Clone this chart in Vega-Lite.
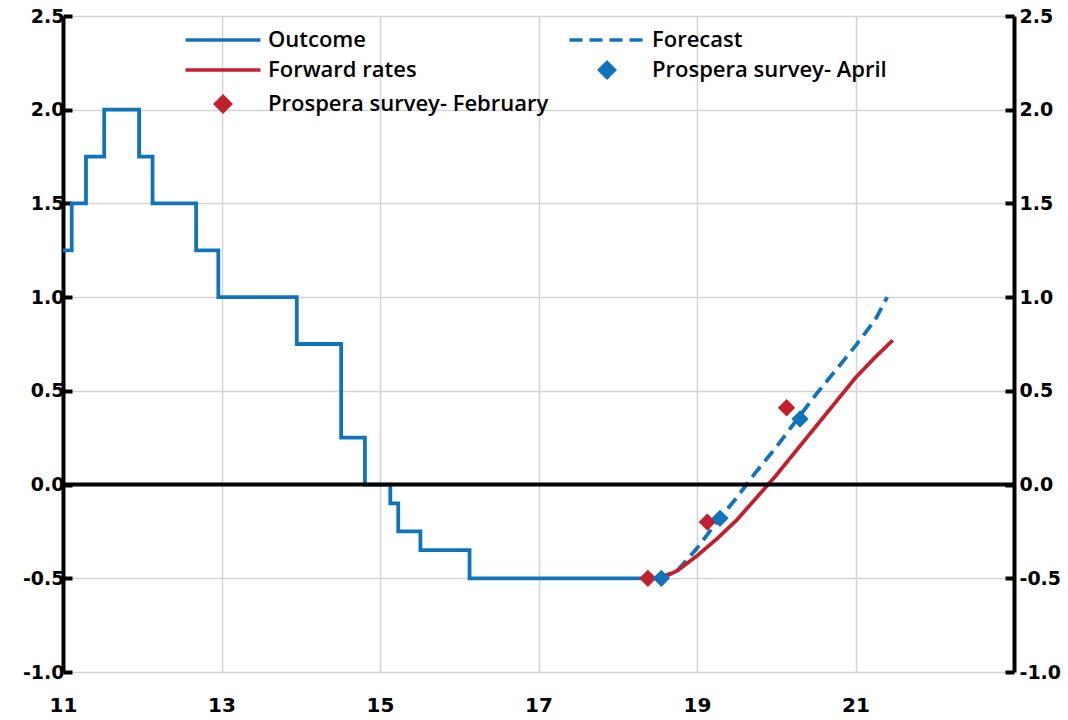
{
  "$schema": "https://vega.github.io/schema/vega-lite/v6.json",
  "autosize": "none",
  "width": 951,
  "height": 656,
  "padding": {"left": 63, "top": 16, "right": 54, "bottom": 48},
  "background": "white",
  "config": {
    "view": {"stroke": null},
    "axis": {"labelFont": "DejaVu Sans", "labelFontWeight": "bold", "labelFontSize": 19, "labelColor": "#000", "title": null, "gridColor": "#d4d4d4", "gridWidth": 1.5}
  },
  "data": {"values": [
    {"series": "Outcome", "x": 11.0, "y": 1.25},
    {"series": "Outcome", "x": 11.11, "y": 1.5},
    {"series": "Outcome", "x": 11.29, "y": 1.75},
    {"series": "Outcome", "x": 11.52, "y": 2.0},
    {"series": "Outcome", "x": 11.96, "y": 1.75},
    {"series": "Outcome", "x": 12.13, "y": 1.5},
    {"series": "Outcome", "x": 12.68, "y": 1.25},
    {"series": "Outcome", "x": 12.96, "y": 1.0},
    {"series": "Outcome", "x": 13.95, "y": 0.75},
    {"series": "Outcome", "x": 14.51, "y": 0.25},
    {"series": "Outcome", "x": 14.81, "y": 0.0},
    {"series": "Outcome", "x": 15.13, "y": -0.1},
    {"series": "Outcome", "x": 15.23, "y": -0.25},
    {"series": "Outcome", "x": 15.51, "y": -0.35},
    {"series": "Outcome", "x": 16.13, "y": -0.5},
    {"series": "Outcome", "x": 18.52, "y": -0.5},
    {"series": "Forecast", "x": 18.52, "y": -0.5},
    {"series": "Forecast", "x": 18.75, "y": -0.46},
    {"series": "Forecast", "x": 19.0, "y": -0.34},
    {"series": "Forecast", "x": 19.25, "y": -0.2},
    {"series": "Forecast", "x": 19.5, "y": -0.07},
    {"series": "Forecast", "x": 19.75, "y": 0.07},
    {"series": "Forecast", "x": 20.0, "y": 0.2},
    {"series": "Forecast", "x": 20.25, "y": 0.34},
    {"series": "Forecast", "x": 20.5, "y": 0.48},
    {"series": "Forecast", "x": 20.75, "y": 0.61},
    {"series": "Forecast", "x": 21.0, "y": 0.74},
    {"series": "Forecast", "x": 21.25, "y": 0.88},
    {"series": "Forecast", "x": 21.4, "y": 1.0},
    {"series": "Forward rates", "x": 18.55, "y": -0.5},
    {"series": "Forward rates", "x": 18.75, "y": -0.46},
    {"series": "Forward rates", "x": 19.0, "y": -0.38},
    {"series": "Forward rates", "x": 19.25, "y": -0.29},
    {"series": "Forward rates", "x": 19.5, "y": -0.19},
    {"series": "Forward rates", "x": 19.75, "y": -0.07},
    {"series": "Forward rates", "x": 20.0, "y": 0.05},
    {"series": "Forward rates", "x": 20.25, "y": 0.18},
    {"series": "Forward rates", "x": 20.5, "y": 0.31},
    {"series": "Forward rates", "x": 20.75, "y": 0.44},
    {"series": "Forward rates", "x": 21.0, "y": 0.57},
    {"series": "Forward rates", "x": 21.25, "y": 0.68},
    {"series": "Forward rates", "x": 21.47, "y": 0.77},
    {"series": "Prospera survey- February", "x": 18.38, "y": -0.5},
    {"series": "Prospera survey- February", "x": 19.13, "y": -0.2},
    {"series": "Prospera survey- February", "x": 20.13, "y": 0.41},
    {"series": "Prospera survey- April", "x": 18.55, "y": -0.5},
    {"series": "Prospera survey- April", "x": 19.29, "y": -0.18},
    {"series": "Prospera survey- April", "x": 20.3, "y": 0.35}
  ]},
  "resolve": {"scale": {"y": "independent"}},
  "layer": [
    {
      "transform": [{"filter": "datum.series == 'Outcome'"}],
      "mark": {"type": "line", "strokeWidth": 3.8, "interpolate": "step-after"},
      "encoding": {
        "x": {"field": "x", "type": "quantitative", "scale": {"domain": [11, 23], "nice": false},
          "axis": {"values": [11, 13, 15, 17, 19, 21, 23], "format": "d", "labelExpr": "datum.value == 23 ? '' : datum.label", "labelFlush": false, "labelFontSize": 20, "domain": false, "ticks": false, "grid": true, "labelPadding": 23}},
        "y": {"field": "y", "type": "quantitative", "scale": {"domain": [-1, 2.5], "nice": false},
          "axis": {"orient": "left", "values": [-1, -0.5, 0, 0.5, 1, 1.5, 2, 2.5], "labelExpr": "(datum.value < 0 ? '-' : '') + format(abs(datum.value), '.1f')", "grid": true, "domainColor": "#000", "domainWidth": 4, "tickColor": "#000", "tickWidth": 4, "tickSize": -9, "labelPadding": 8}},
        "color": {"field": "series", "type": "nominal",
          "scale": {"domain": ["Outcome", "Forward rates", "Prospera survey- February", "Forecast", "Prospera survey- April"], "range": ["#1173BA", "#C2202F", "#C2202F", "#1173BA", "#1173BA"]},
          "legend": {
            "orient": "none", "legendX": 149, "legendY": 13, "columns": 2, "title": null, "padding": 0,
            "labelFont": "Open Sans", "labelFontSize": 22, "labelFontWeight": 600, "labelColor": "#000", "labelLimit": 500,
            "symbolSize": 225, "symbolStrokeWidth": 3.5, "rowPadding": 4, "columnPadding": 13, "labelOffset": 34, "gridAlign": "each"
          }},
        "strokeDash": {"field": "series", "type": "nominal", "scale": {"domain": ["Outcome", "Forward rates", "Prospera survey- February", "Forecast", "Prospera survey- April"], "range": [[1, 0], [1, 0], [1, 0], [13, 7], [1, 0]]}}
      }
    },
    {
      "transform": [{"filter": "datum.series == 'Forecast' || datum.series == 'Forward rates'"}],
      "mark": {"type": "line", "strokeWidth": 3.8},
      "encoding": {
        "x": {"field": "x", "type": "quantitative"},
        "y": {"field": "y", "type": "quantitative", "scale": {"domain": [-1, 2.5], "nice": false}, "axis": null},
        "color": {"field": "series", "type": "nominal"},
        "strokeDash": {"field": "series", "type": "nominal"},
        "order": {"field": "x", "type": "quantitative"}
      }
    },
    {
      "transform": [{"filter": "indexof(datum.series, 'Prospera') == 0"}],
      "mark": {"type": "point", "filled": true, "size": 300, "opacity": 1},
      "encoding": {
        "x": {"field": "x", "type": "quantitative"},
        "y": {"field": "y", "type": "quantitative", "scale": {"domain": [-1, 2.5], "nice": false},
          "axis": {"orient": "right", "values": [-1, -0.5, 0, 0.5, 1, 1.5, 2, 2.5], "labelExpr": "(datum.value < 0 ? '-' : '') + format(abs(datum.value), '.1f')", "grid": false, "domainColor": "#000", "domainWidth": 4, "tickColor": "#000", "tickWidth": 4, "tickSize": -9, "labelPadding": 14}},
        "color": {"field": "series", "type": "nominal"},
        "shape": {"field": "series", "type": "nominal", "scale": {"domain": ["Outcome", "Forward rates", "Prospera survey- February", "Forecast", "Prospera survey- April"], "range": ["M-5,0L5,0", "M-5,0L5,0", "diamond", "M-5,0L5,0", "diamond"]}}
      }
    },
    {
      "data": {"values": [{"zero": 0}]},
      "mark": {"type": "rule", "color": "#000", "strokeWidth": 4},
      "encoding": {
        "y": {"field": "zero", "type": "quantitative", "scale": {"domain": [-1, 2.5], "nice": false}, "axis": null}
      }
    }
  ]
}
